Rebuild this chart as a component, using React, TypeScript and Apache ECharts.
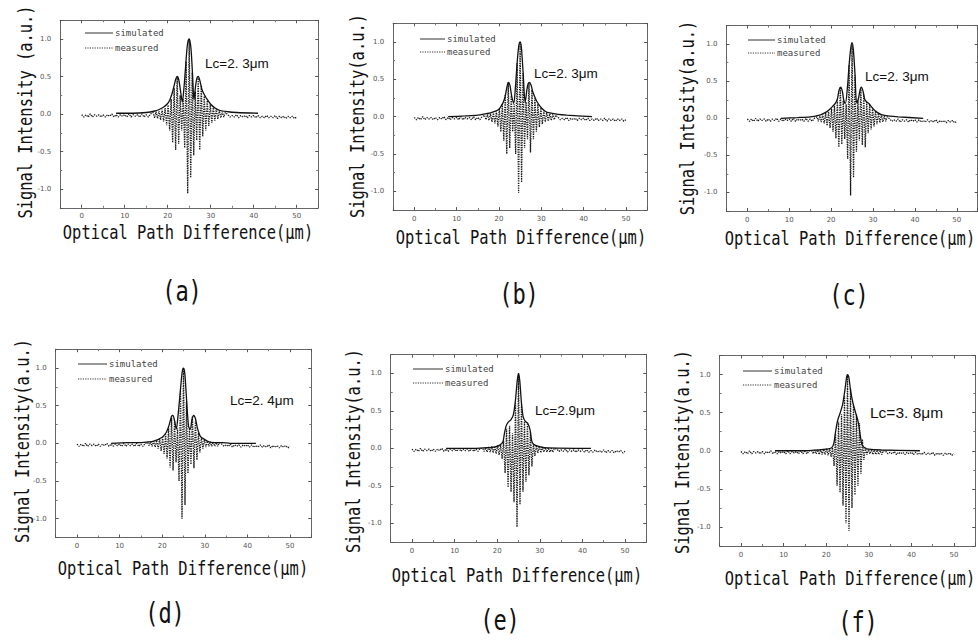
import React, { useEffect, useRef } from "react";
import * as echarts from "echarts";

// ---------- shared fringe sample positions (µm) ----------
const flatLeftX = [0, 0.5, 1, 1.5, 2, 2.5, 3, 3.5, 4, 4.5, 5, 5.5, 6, 6.5, 7, 7.5, 8, 8.5, 9, 9.5, 10, 10.5, 11, 11.5, 12, 12.5, 13, 13.5, 14, 14.5, 15, 15.5, 16];
const flatLeftY = [-0.01, -0.04, -0.01, -0.04, 0.0, -0.04, -0.01, -0.03, -0.01, -0.04, -0.01, -0.04, -0.01, -0.03, 0.0, -0.04, -0.01, -0.04, -0.01, -0.03, -0.01, -0.04, 0.0, -0.04, -0.01, -0.03, -0.01, -0.04, 0.0, -0.04, -0.01, -0.04, 0.0];
const centerX = [16.6, 16.95, 17.3, 17.65, 18.0, 18.35, 18.7, 19.05, 19.4, 19.75, 20.1, 20.45, 20.8, 21.15, 21.5, 21.85, 22.2, 22.55, 22.9, 23.25, 23.6, 23.95, 24.3, 24.65, 25.0, 25.35, 25.7, 26.05, 26.4, 26.75, 27.1, 27.45, 27.8, 28.15, 28.5, 28.85, 29.2, 29.55, 29.9, 30.25, 30.6, 30.95, 31.3, 31.65, 32.0, 32.35, 32.7, 33.05, 33.4];
const flatRightX = [34, 34.5, 35, 35.5, 36, 36.5, 37, 37.5, 38, 38.5, 39, 39.5, 40, 40.5, 41, 41.5, 42, 42.5, 43, 43.5, 44, 44.5, 45, 45.5, 46, 46.5, 47, 47.5, 48, 48.5, 49, 49.5, 50];
const flatRightY = [-0.01, -0.04, -0.02, -0.04, -0.01, -0.05, -0.02, -0.04, -0.02, -0.05, -0.02, -0.04, -0.02, -0.05, -0.02, -0.05, -0.03, -0.05, -0.02, -0.05, -0.03, -0.05, -0.02, -0.06, -0.03, -0.05, -0.03, -0.06, -0.03, -0.05, -0.03, -0.06, -0.04];

// ---------- measured fringe extremes (central region) ----------
const measA = [0.02, -0.05, 0.03, -0.06, 0.04, -0.08, 0.06, -0.1, 0.08, -0.15, 0.12, -0.22, 0.2, -0.38, 0.35, -0.48, 0.5, -0.4, 0.25, -0.22, 0.2, -0.45, 0.7, -1.06, 1.0, -0.85, 0.55, -0.55, 0.3, -0.35, 0.48, -0.48, 0.38, -0.3, 0.24, -0.22, 0.18, -0.16, 0.13, -0.12, 0.1, -0.09, 0.07, -0.07, 0.05, -0.05, 0.03, -0.04, 0.02];
const measB = [0.02, -0.04, 0.03, -0.05, 0.04, -0.07, 0.05, -0.09, 0.07, -0.13, 0.11, -0.2, 0.17, -0.32, 0.3, -0.5, 0.46, -0.42, 0.28, -0.2, 0.17, -0.5, 0.72, -1.02, 1.0, -0.88, 0.58, -0.42, 0.2, -0.3, 0.45, -0.48, 0.36, -0.3, 0.25, -0.2, 0.17, -0.14, 0.12, -0.1, 0.08, -0.07, 0.06, -0.06, 0.04, -0.05, 0.03, -0.04, 0.02];
const measC = [0.02, -0.04, 0.03, -0.05, 0.05, -0.07, 0.07, -0.1, 0.09, -0.13, 0.13, -0.18, 0.17, -0.27, 0.24, -0.39, 0.42, -0.35, 0.24, -0.28, 0.19, -0.55, 0.72, -1.04, 1.0, -0.8, 0.58, -0.45, 0.24, -0.3, 0.41, -0.36, 0.33, -0.39, 0.22, -0.2, 0.18, -0.15, 0.14, -0.11, 0.1, -0.08, 0.07, -0.06, 0.05, -0.05, 0.03, -0.04, 0.02];
const measD = [0.01, -0.03, 0.02, -0.04, 0.03, -0.05, 0.04, -0.07, 0.06, -0.1, 0.08, -0.14, 0.12, -0.2, 0.2, -0.32, 0.34, -0.36, 0.3, -0.25, 0.2, -0.5, 0.7, -1.0, 1.0, -0.82, 0.55, -0.4, 0.2, -0.28, 0.36, -0.33, 0.3, -0.22, 0.14, -0.12, 0.08, -0.07, 0.05, -0.05, 0.03, -0.04, 0.02, -0.04, 0.02, -0.04, 0.01, -0.04, 0.01];
const measE = [0.0, -0.04, 0.01, -0.05, 0.02, -0.05, 0.03, -0.06, 0.03, -0.07, 0.04, -0.09, 0.05, -0.14, 0.1, -0.33, 0.26, -0.52, 0.3, -0.58, 0.2, -0.72, 0.6, -1.05, 1.0, -0.75, 0.58, -0.58, 0.36, -0.45, 0.32, -0.36, 0.22, -0.24, 0.06, -0.1, 0.04, -0.06, 0.03, -0.06, 0.02, -0.05, 0.01, -0.05, 0.01, -0.05, 0.0, -0.05, 0.0];
const measF = [0.0, -0.04, 0.01, -0.04, 0.01, -0.05, 0.02, -0.05, 0.02, -0.05, 0.03, -0.06, 0.03, -0.08, 0.04, -0.2, 0.22, -0.46, 0.38, -0.55, 0.48, -0.72, 0.72, -0.95, 1.0, -1.05, 0.82, -0.75, 0.6, -0.58, 0.48, -0.46, 0.36, -0.3, 0.15, -0.12, 0.04, -0.05, 0.02, -0.04, 0.02, -0.05, 0.01, -0.05, 0.01, -0.05, 0.0, -0.05, 0.0];

// ---------- simulated envelopes ----------
const envAX = [8, 12, 15, 17, 18, 19, 20, 20.5, 21, 21.5, 21.9, 22.25, 22.6, 23.0, 23.4, 23.8, 24.2, 24.6, 25.0, 25.4, 25.8, 26.1, 26.5, 26.8, 27.1, 27.5, 28.0, 28.5, 29, 30, 31, 32, 34, 36, 41];
const envAY = [0.01, 0.01, 0.02, 0.04, 0.06, 0.09, 0.14, 0.19, 0.27, 0.38, 0.47, 0.5, 0.45, 0.3, 0.16, 0.36, 0.66, 0.93, 1.0, 0.88, 0.5, 0.19, 0.38, 0.48, 0.5, 0.44, 0.32, 0.26, 0.21, 0.13, 0.08, 0.05, 0.03, 0.02, 0.01];
const envBX = [8, 12, 15, 17, 18, 19, 20, 20.5, 21, 21.5, 21.9, 22.25, 22.6, 23.0, 23.5, 23.9, 24.3, 24.7, 25.0, 25.3, 25.7, 26.2, 26.6, 26.9, 27.2, 27.6, 28.0, 28.5, 29, 30, 31, 32, 34, 36, 42];
const envBY = [0.0, 0.01, 0.02, 0.04, 0.05, 0.07, 0.1, 0.14, 0.19, 0.28, 0.4, 0.46, 0.42, 0.28, 0.18, 0.4, 0.72, 0.95, 1.0, 0.93, 0.6, 0.19, 0.36, 0.44, 0.46, 0.42, 0.33, 0.26, 0.2, 0.12, 0.07, 0.05, 0.03, 0.02, 0.0];
const envCX = [8, 12, 15, 17, 18, 19, 20, 20.5, 21, 21.5, 21.9, 22.3, 22.7, 23.0, 23.4, 23.9, 24.3, 24.7, 25.0, 25.3, 25.7, 26.1, 26.5, 26.9, 27.2, 27.6, 28.0, 28.5, 29, 30, 31, 32, 34, 36, 42];
const envCY = [0.0, 0.01, 0.02, 0.04, 0.06, 0.09, 0.14, 0.17, 0.2, 0.26, 0.38, 0.42, 0.36, 0.25, 0.2, 0.42, 0.72, 0.95, 1.02, 0.93, 0.6, 0.21, 0.26, 0.38, 0.42, 0.37, 0.26, 0.22, 0.2, 0.13, 0.08, 0.05, 0.03, 0.02, 0.0];
const envDX = [8, 12, 15, 17, 18, 19, 20, 20.5, 21, 21.5, 21.9, 22.2, 22.5, 22.9, 23.3, 23.8, 24.3, 24.7, 25.0, 25.3, 25.7, 26.2, 26.6, 27.0, 27.4, 27.8, 28.2, 28.6, 29, 30, 31, 32, 34, 36, 42];
const envDY = [0.0, 0.01, 0.01, 0.02, 0.03, 0.05, 0.08, 0.11, 0.15, 0.22, 0.3, 0.36, 0.37, 0.3, 0.19, 0.42, 0.72, 0.95, 1.0, 0.93, 0.6, 0.22, 0.19, 0.32, 0.37, 0.33, 0.22, 0.14, 0.09, 0.05, 0.02, 0.01, 0.01, 0.0, 0.0];
const envEX = [8, 15, 18, 19.5, 20.5, 21.3, 21.7, 22.1, 22.6, 23.2, 23.8, 24.3, 24.7, 25.0, 25.3, 25.7, 26.1, 26.6, 27.2, 27.7, 28.1, 28.6, 29.5, 31, 42];
const envEY = [0.0, 0.0, 0.01, 0.02, 0.04, 0.08, 0.2, 0.3, 0.35, 0.38, 0.45, 0.65, 0.9, 1.0, 0.9, 0.6, 0.42, 0.36, 0.33, 0.25, 0.1, 0.05, 0.03, 0.01, 0.0];
const envFX = [8, 15, 18, 20, 21.3, 21.8, 22.2, 22.7, 23.3, 23.9, 24.4, 24.8, 25.0, 25.3, 25.7, 26.3, 26.9, 27.5, 28.0, 28.4, 29, 30, 33, 42];
const envFY = [0.0, 0.0, 0.01, 0.02, 0.04, 0.1, 0.25, 0.4, 0.5, 0.62, 0.8, 0.97, 1.0, 0.97, 0.8, 0.62, 0.5, 0.38, 0.2, 0.08, 0.04, 0.02, 0.01, 0.0];

// ---------- texts ----------
const lcTexts = ["Lc=2. 3μm", "Lc=2. 3μm", "Lc=2. 3μm", "Lc=2. 4μm", "Lc=2.9μm", "Lc=3. 8μm"];
const yTitles = ["Signal Intensity (a.u.)", "Signal Intensity(a.u.)", "Signal Intesity(a.u.)", "Signal Intensity(a.u.)", "Signal Intensity(a.u.)", "Signal Intensity(a.u.)"];
const xTitle = "Optical Path Difference(μm)";
const panelTags = ["(a)", "(b)", "(c)", "(d)", "(e)", "(f)"];
const legendNames = ["simulated", "measured"];

const measList = [measA, measB, measC, measD, measE, measF];
const envList = [[envAX, envAY], [envBX, envBY], [envCX, envCY], [envDX, envDY], [envEX, envEY], [envFX, envFY]];

// ---------- layout (pixels) ----------
const layout = [
  { left: 60.2, top: 20.25, w: 258, h: 187.5, yt: [25, 112], xt: [188, 232], tag: [182, 292], leg: [85, 113, 33, 48], lc: [205, 63, 13.5] },
  { left: 393.1, top: 23.3, w: 254, h: 186.8, yt: [357, 116], xt: [521, 237], tag: [519, 295], leg: [420, 445, 39, 52], lc: [534, 73, 13.5] },
  { left: 726.4, top: 25.6, w: 251.3, h: 185.4, yt: [687, 118], xt: [850, 238], tag: [849, 296], leg: [748, 775, 40, 53], lc: [865, 76, 13.5] },
  { left: 55.7, top: 349.2, w: 255.6, h: 188.3, yt: [22, 441], xt: [183, 568], tag: [165, 614], leg: [78, 107, 364, 379], lc: [230, 400, 13.5] },
  { left: 390.7, top: 354.6, w: 255.6, h: 187.5, yt: [353, 451], xt: [517, 575], tag: [500, 621], leg: [413, 443, 369, 383], lc: [535, 410, 13.5] },
  { left: 719.7, top: 355.5, w: 255.6, h: 190.5, yt: [682, 452], xt: [850, 578], tag: [858, 623], leg: [743, 772, 371, 385], lc: [870, 412, 15.5] },
];

const MONO = '"DejaVu Sans Mono"';

function zip(xs: number[], ys: number[]) {
  const n = Math.min(xs.length, ys.length);
  const out: number[][] = [];
  for (let i = 0; i < n; i++) out.push([xs[i], ys[i]]);
  return out;
}

function buildOption() {
  const grid: any[] = [];
  const xAxis: any[] = [];
  const yAxis: any[] = [];
  const series: any[] = [];
  const graphic: any[] = [];
  const axisLine = { show: true, onZero: false, lineStyle: { color: "#666", width: 1 } };
  const tick = { show: true, inside: true, length: 3, lineStyle: { color: "#555", width: 1 } };
  const minor = { show: true, splitNumber: 2, length: 2, lineStyle: { color: "#777", width: 1 } };

  layout.forEach((L, i) => {
    grid.push({ left: L.left, top: L.top, width: L.w, height: L.h, containLabel: false });
    ["bottom", "top"].forEach((pos) => {
      xAxis.push({
        type: "value", gridIndex: i, position: pos, min: -5, max: 55, splitNumber: 6,
        axisLine, axisTick: tick, minorTick: minor, splitLine: { show: false },
        axisLabel: pos === "bottom"
          ? { show: true, fontSize: 7, color: "#555", margin: 5, fontFamily: "DejaVu Sans", showMinLabel: false, showMaxLabel: false }
          : { show: false },
      });
    });
    ["left", "right"].forEach((pos) => {
      yAxis.push({
        type: "value", gridIndex: i, position: pos, min: -1.25, max: 1.25, splitNumber: 5,
        axisLine, axisTick: tick, minorTick: minor, splitLine: { show: false },
        axisLabel: pos === "left"
          ? { show: true, fontSize: 7, color: "#555", margin: 9, fontFamily: "DejaVu Sans", showMinLabel: false, showMaxLabel: false, formatter: (v: number) => v.toFixed(1) }
          : { show: false },
      });
    });

    const meas = [
      ...zip(flatLeftX, flatLeftY),
      ...zip(centerX, measList[i]),
      ...zip(flatRightX, flatRightY),
    ];
    series.push({
      type: "line", name: legendNames[1], xAxisIndex: 2 * i, yAxisIndex: 2 * i, data: meas,
      showSymbol: false, symbol: "none", z: 2,
      lineStyle: { color: "#1a1a1a", width: 1.3, type: [1.3, 1.1] },
    });
    series.push({
      type: "line", name: legendNames[0], xAxisIndex: 2 * i, yAxisIndex: 2 * i,
      data: zip(envList[i][0], envList[i][1]), showSymbol: false, symbol: "none", smooth: 0.3, z: 3,
      lineStyle: { color: "#111", width: 1.3 },
    });

    const [lx1, lx2, ly1, ly2] = L.leg;
    graphic.push({ type: "line", shape: { x1: lx1, y1: ly1, x2: lx2, y2: ly1 }, style: { stroke: "#333", lineWidth: 1 } });
    graphic.push({ type: "line", shape: { x1: lx1, y1: ly2, x2: lx2, y2: ly2 }, style: { stroke: "#333", lineWidth: 1, lineDash: [1.2, 1.2] } });
    graphic.push({ type: "text", x: lx2 + 2, y: ly1, style: { text: legendNames[0], font: `9px ${MONO}`, fill: "#444", verticalAlign: "middle", textVerticalAlign: "middle" } });
    graphic.push({ type: "text", x: lx2 + 2, y: ly2, style: { text: legendNames[1], font: `9px ${MONO}`, fill: "#444", verticalAlign: "middle", textVerticalAlign: "middle" } });
    graphic.push({ type: "text", x: L.lc[0], y: L.lc[1], style: { text: lcTexts[i], font: `${L.lc[2]}px "Liberation Sans"`, fill: "#111", verticalAlign: "middle", textVerticalAlign: "middle" } });
    graphic.push({
      type: "text", x: L.yt[0], y: L.yt[1], rotation: Math.PI / 2, scaleY: 1.3,
      style: { text: yTitles[i], font: `15.4px ${MONO}`, fill: "#111", align: "center", textAlign: "center", verticalAlign: "middle", textVerticalAlign: "middle" },
    });
    graphic.push({
      type: "text", x: L.xt[0], y: L.xt[1], scaleY: 1.3,
      style: { text: xTitle, font: `15.4px ${MONO}`, fill: "#111", align: "center", textAlign: "center", verticalAlign: "middle", textVerticalAlign: "middle" },
    });
    graphic.push({
      type: "text", x: L.tag[0], y: L.tag[1], scaleY: 1.25,
      style: { text: panelTags[i], font: `22px ${MONO}`, fill: "#111", align: "center", textAlign: "center", verticalAlign: "middle", textVerticalAlign: "middle" },
    });
  });

  return { animation: false, backgroundColor: "#fff", grid, xAxis, yAxis, series, graphic };
}

export default function App() {
  const ref = useRef<HTMLDivElement>(null);
  useEffect(() => {
    document.body.style.margin = "0";
    if (!ref.current) return;
    const chart = echarts.init(ref.current, undefined, { renderer: "svg", width: 978, height: 643 });
    chart.setOption(buildOption() as any);
    return () => chart.dispose();
  }, []);
  return <div ref={ref} style={{ position: "absolute", left: 0, top: 0, width: 978, height: 643, background: "#fff" }} />;
}
